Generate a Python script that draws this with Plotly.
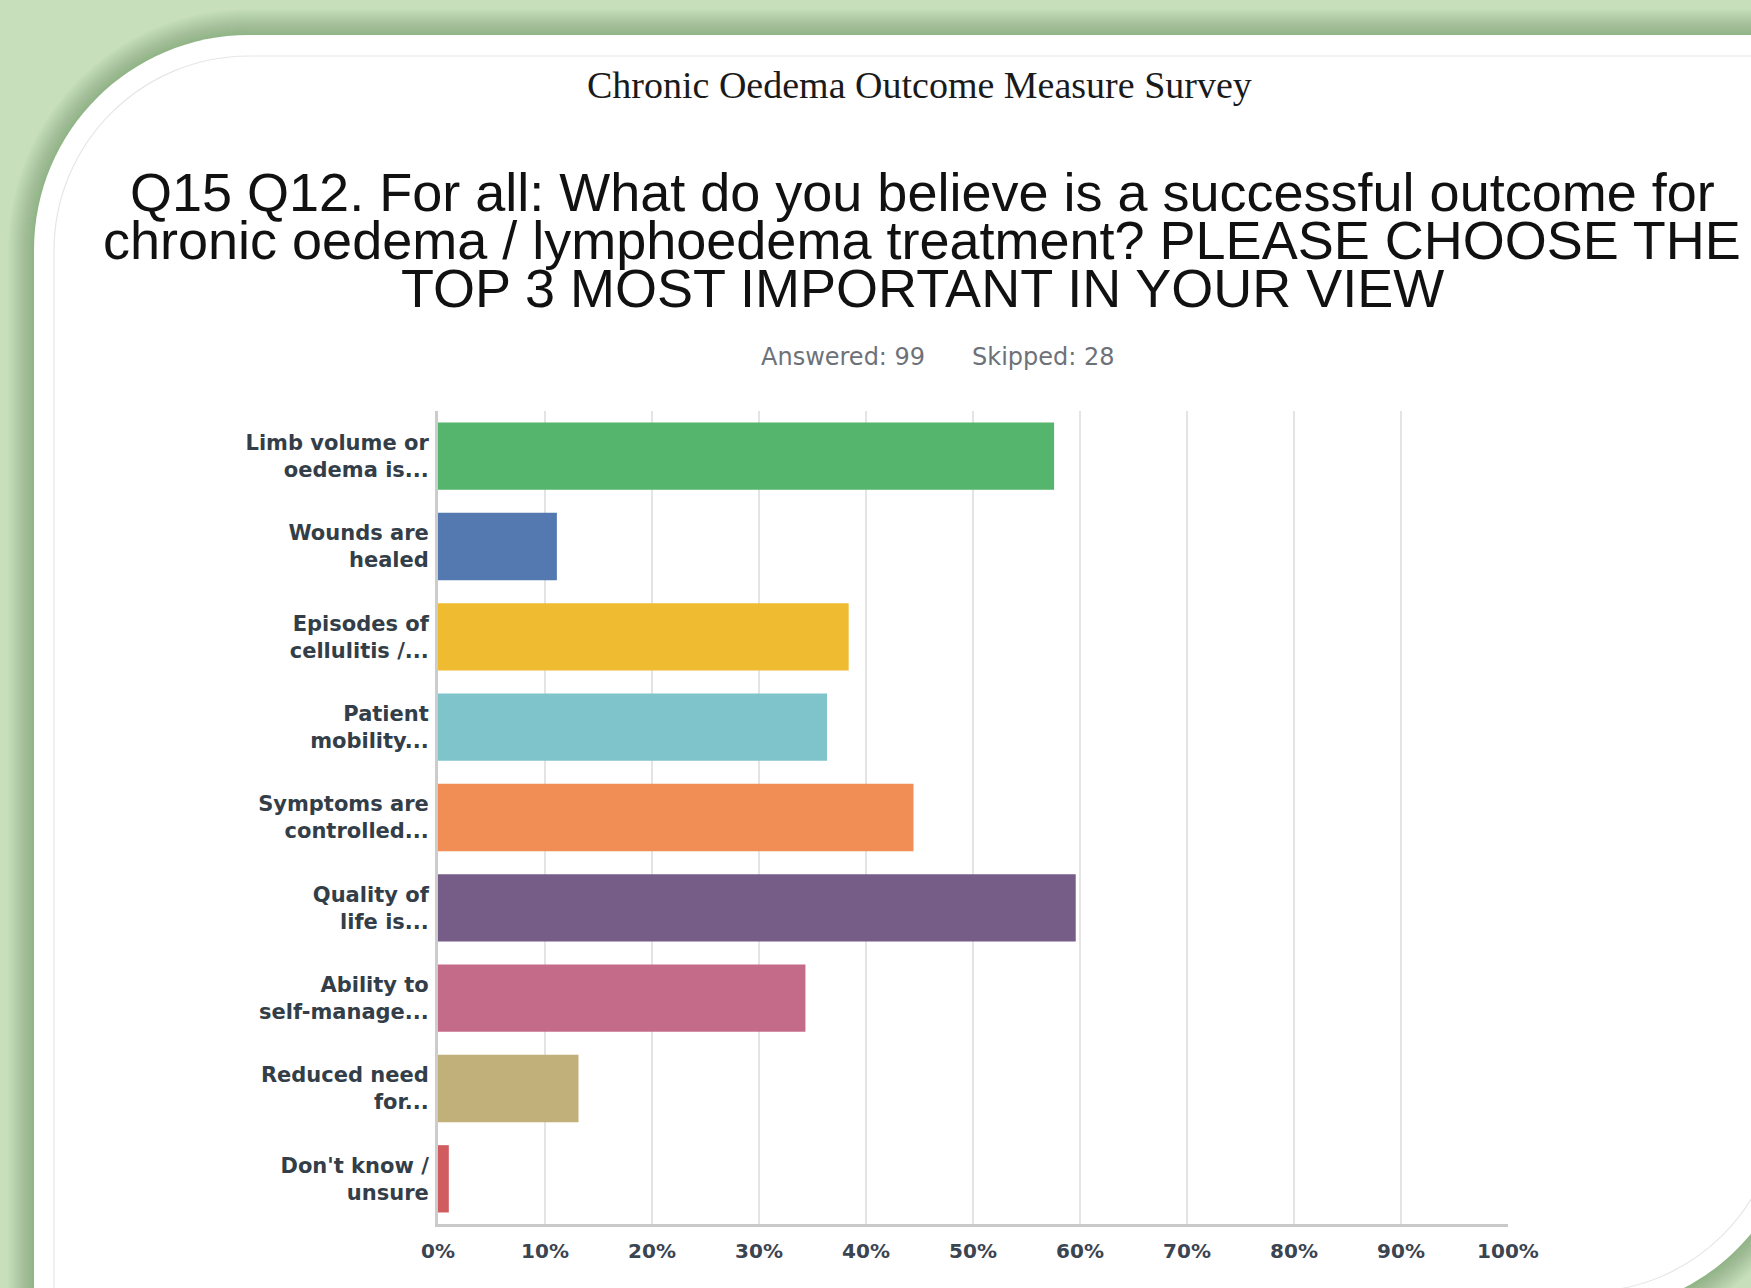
import plotly.graph_objects as go

W, H = 1751, 1288

categories = [
    "Limb volume or<br>oedema is...",
    "Wounds are<br>healed",
    "Episodes of<br>cellulitis /...",
    "Patient<br>mobility...",
    "Symptoms are<br>controlled...",
    "Quality of<br>life is...",
    "Ability to<br>self-manage...",
    "Reduced need<br>for...",
    "Don't know /<br>unsure",
]
values = [57.58, 11.11, 38.38, 36.36, 44.44, 59.60, 34.34, 13.13, 1.01]
bar_colors = ["#55b56c", "#5479b0", "#efbb30", "#7fc4ca", "#f18e55",
              "#765d88", "#c56b8a", "#c1b07a", "#d05c60"]
tick_vals = [0, 10, 20, 30, 40, 50, 60, 70, 80, 90, 100]
tick_text = ["0%", "10%", "20%", "30%", "40%", "50%", "60%",
             "70%", "80%", "90%", "100%"]

survey_name = "Chronic Oedema Outcome Measure Survey"
question_lines = [
    "Q15 Q12. For all: What do you believe is a successful outcome for",
    "chronic oedema / lymphoedema treatment? PLEASE CHOOSE THE",
    "TOP 3 MOST IMPORTANT IN YOUR VIEW",
]
answered_text = "Answered: 99"
skipped_text = "Skipped: 28"


def P(px, py):
    return px / W, 1 - py / H


def rr_path(L, T, R, B, rtl, rbr):
    k = 0.5523
    def f(x, y):
        a, b = P(x, y)
        return f"{a:.5f},{b:.5f}"
    s = f"M{f(L + rtl, T)} L{f(R, T)} L{f(R, B - rbr)} "
    s += f"C{f(R, B - rbr + k * rbr)} {f(R - rbr + k * rbr, B)} {f(R - rbr, B)} "
    s += f"L{f(L, B)} L{f(L, T + rtl)} "
    s += f"C{f(L, T + rtl - k * rtl)} {f(L + rtl - k * rtl, T)} {f(L + rtl, T)} Z"
    return s


shapes = []
PL, PT, PR, PB, RTL, RBR = 34, 35, 1800, 1312, 215, 215
for d in range(26, 0, -1):
    shapes.append(dict(type="path", xref="paper", yref="paper", layer="below",
                       path=rr_path(PL - d, PT - d, PR + d, PB + d, RTL + d, RBR + d),
                       fillcolor="rgba(80,105,65,0.016)", line=dict(width=0)))
shapes.append(dict(type="path", xref="paper", yref="paper", layer="below",
                   path=rr_path(PL, PT, PR, PB, RTL, RBR),
                   fillcolor="#ffffff", line=dict(width=0)))
shapes.append(dict(type="path", xref="paper", yref="paper", layer="below",
                   path=rr_path(PL + 20, PT + 21, PR - 20, PB - 20, RTL - 20, RBR - 20),
                   fillcolor="rgba(0,0,0,0)", line=dict(width=1.2, color="#e6e6e6")))

fig = go.Figure(go.Bar(
    x=values, y=categories, orientation="h",
    marker=dict(color=bar_colors, line=dict(width=0)),
    hoverinfo="skip",
))

annotations = []
x0, y0 = P(920, 85)
annotations.append(dict(text=survey_name, x=x0, y=y0, xref="paper", yref="paper",
                        showarrow=False, xanchor="center", yanchor="middle",
                        font=dict(family="Liberation Serif", size=38, color="#1a1a1a")))
for line, py in zip(question_lines, [192, 240, 288]):
    xx, yy = P(922, py)
    annotations.append(dict(text=line, x=xx, y=yy, xref="paper", yref="paper",
                            showarrow=False, xanchor="center", yanchor="middle",
                            font=dict(family="Liberation Sans", size=54, color="#111111")))
xa, ya = P(927, 357)
annotations.append(dict(text=answered_text, x=xa, y=ya, xref="paper", yref="paper",
                        showarrow=False, xanchor="right", yanchor="middle",
                        font=dict(family="DejaVu Sans", size=24, color="#6d7278")))
xs, ys = P(970, 357)
annotations.append(dict(text=skipped_text, x=xs, y=ys, xref="paper", yref="paper",
                        showarrow=False, xanchor="left", yanchor="middle",
                        font=dict(family="DejaVu Sans", size=24, color="#6d7278")))

fig.update_layout(
    template="none",
    width=W, height=H,
    margin=dict(l=0, r=0, t=0, b=0, pad=0),
    paper_bgcolor="#c8dfbb",
    plot_bgcolor="rgba(0,0,0,0)",
    showlegend=False,
    bargap=0.255,
    shapes=shapes,
    annotations=annotations,
    xaxis=dict(
        domain=[438 / W, 1508 / W],
        range=[0, 100],
        automargin=False,
        tickvals=tick_vals, ticktext=tick_text, tickangle=0,
        showgrid=True, gridcolor="#e4e4e4", gridwidth=2,
        zeroline=False,
        showline=True, linecolor="#c9c9c9", linewidth=3,
        ticks="", ticklabelstandoff=7,
        tickfont=dict(family="DejaVu Sans", size=20, color="#3b4451", weight="bold"),
        fixedrange=True,
    ),
    yaxis=dict(
        domain=[1 - 1224 / H, 1 - 411 / H],
        autorange="reversed",
        automargin=False,
        showgrid=False, zeroline=False,
        showline=True, linecolor="#cccccc", linewidth=3,
        ticks="", ticklabelstandoff=2,
        tickfont=dict(family="DejaVu Sans", size=21, color="#333e48", weight="bold"),
        fixedrange=True,
    ),
)

fig.write_html("out.html", config={"displayModeBar": False},
               post_script="document.body.style.margin='0';document.body.style.overflow='hidden';")
